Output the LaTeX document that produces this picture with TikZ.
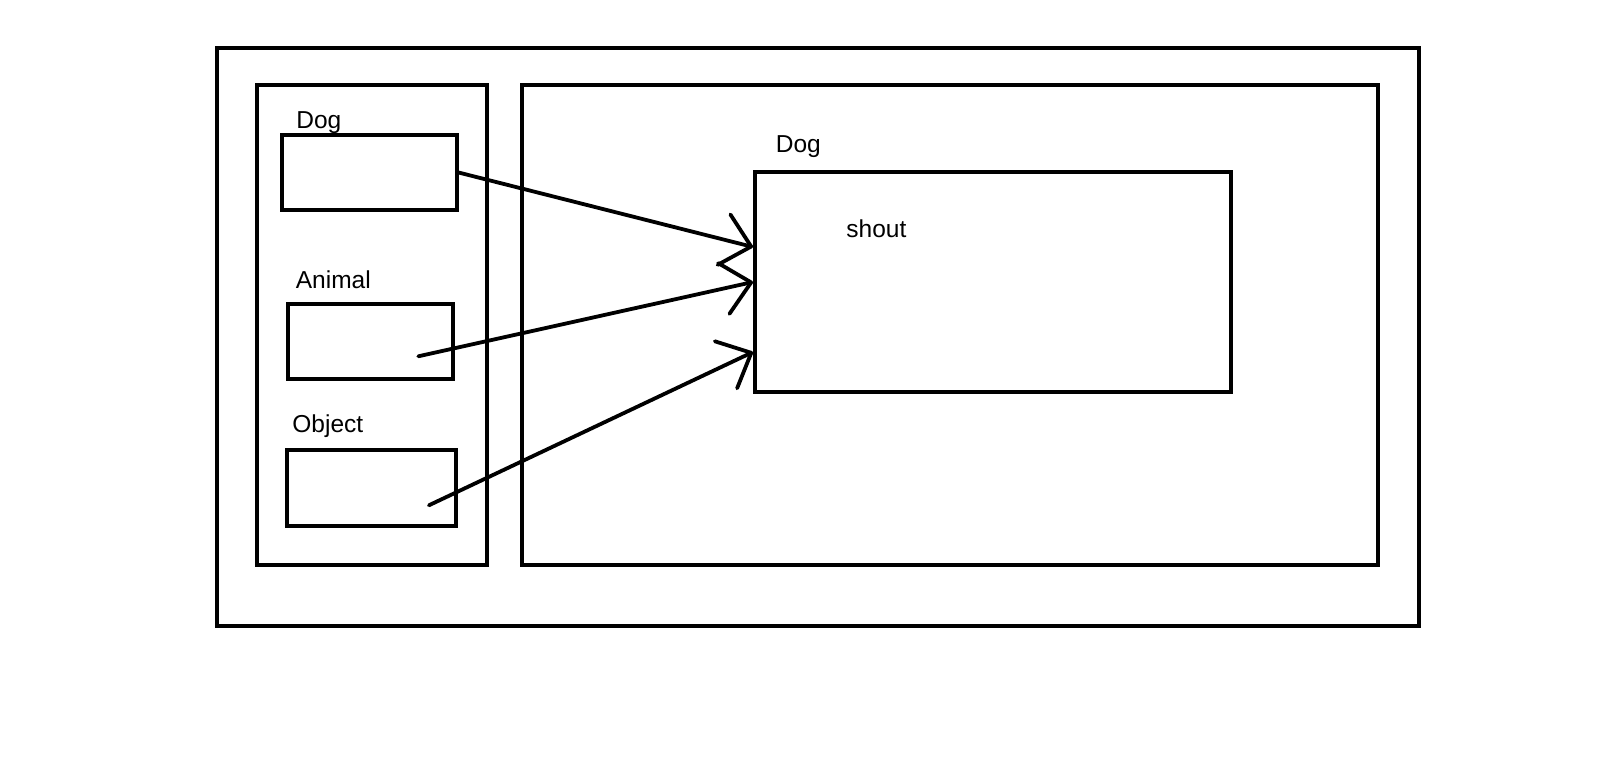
\documentclass[tikz,border=0pt]{standalone}
\usepackage{fontspec}
\setmainfont{Liberation Sans}
\usetikzlibrary{arrows.meta}

\begin{document}
\begin{tikzpicture}[x=0.5pt,y=-0.5pt,
  frame/.style={draw,line width=2pt,inner sep=0pt},
  lbl/.style={anchor=base west,inner sep=0pt,font=\fontsize{12.25pt}{14pt}\selectfont},
  ref/.style={line width=1.9pt,line cap=round,-{Straight Barb[length=14pt,width=26pt,round]}}]
% Page
\useasboundingbox (0,0) rectangle (1618,780);

% Draw the frames
\node[frame,minimum width=601pt,minimum height=289pt] (outer) at (818,337) {};
\node[frame,minimum width=115.25pt,minimum height=240pt] (stack) at (371.75,325.5) {};
\node[frame,minimum width=428pt,minimum height=240pt] (heap) at (949.5,325.5) {};

% Reference boxes
\node[frame,minimum width=87.5pt,minimum height=37.35pt] (dogref) at (369,172.5) {};
\node[frame,minimum width=82.3pt,minimum height=37.7pt] (animalref) at (370.3,341.3) {};
\node[frame,minimum width=84.5pt,minimum height=38.1pt] (objectref) at (371.9,488.3) {};

% Object box
\node[frame,minimum width=238pt,minimum height=110pt] (dogobj) at (993,282) {};

% Labels
\node[lbl] (doglbl) at (296,128.7) {Dog};
\node[lbl] (animallbl) at (295.5,288.3) {Animal};
\node[lbl] (objectlbl) at (292,433) {Object};
\node[lbl] (dogobjlbl) at (775.5,152.3) {Dog};
\node[lbl] (shout) at (846,238) {shout};

% References
\draw[ref] (dogref.east) -- ([yshift=17.5pt]dogobj.west);
\draw[ref] ([xshift=24pt,yshift=-7.5pt]animalref.center) -- (dogobj.west);
\draw[ref] ([xshift=28.5pt,yshift=-8.5pt]objectref.center) -- ([yshift=-35pt]dogobj.west);
\end{tikzpicture}
\end{document}
